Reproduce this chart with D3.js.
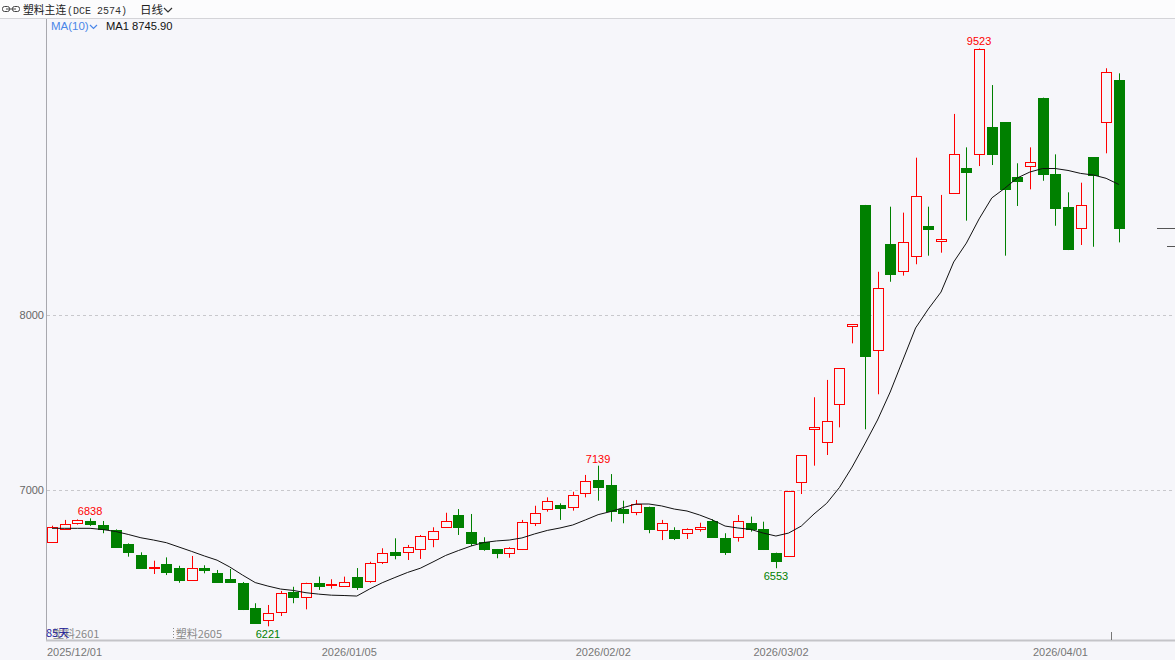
<!DOCTYPE html>
<html><head><meta charset="utf-8">
<script src="https://cdn.jsdelivr.net/npm/d3@7"></script>
<style>
html,body{margin:0;padding:0;background:#f6f6fa;}
svg{display:block;}
</style></head>
<body>
<svg id="c" width="1175" height="660"></svg>
<script>
// ---- data ----
const opens  = [6705,6777,6810,6825,6802,6771,6691,6629,6553,6577,6553,6486,6556,6527,6490,6470,6326,6257,6305,6419,
                6387,6467,6455,6453,6501,6482,6590,6646,6644,6661,6722,6790,6857,6758,6705,6663,6642,6665,6810,6890,
                6914,6901,6981,7057,7029,6891,6873,6901,6771,6771,6754,6775,6823,6727,6729,6813,6777,6642,6625,7044,
                7347,7276,7493,7935,8629,7800,8404,8253,8339,8509,8425,8699,8842,8920,9073,9101,8790,8851,9242,8806,
                8615,8495,8901,9101,9343];
const highs  = [6796,6829,6832,6838,6823,6775,6695,6644,6596,6615,6567,6623,6570,6543,6549,6474,6353,6343,6423,6447,
                6470,6505,6490,6505,6554,6590,6667,6724,6686,6743,6787,6870,6891,6863,6730,6663,6673,6829,6910,6958,
                6924,6990,7086,7139,7091,6939,6943,6905,6829,6787,6781,6813,6833,6753,6857,6848,6819,6642,6995,7200,
                7530,7629,7695,7947,8629,8247,8619,8585,8899,8619,8686,9149,8958,9523,9314,9101,8867,8958,9242,8918,
                8701,8756,8901,9410,9381];
const lows   = [6699,6777,6802,6795,6753,6670,6619,6549,6520,6514,6470,6482,6524,6470,6470,6314,6238,6221,6280,6353,
                6318,6429,6436,6447,6429,6470,6577,6604,6600,6606,6673,6787,6743,6680,6653,6610,6613,6657,6794,6876,
                6829,6882,6958,6939,6819,6810,6856,6753,6714,6714,6720,6762,6727,6629,6705,6762,6657,6553,6625,6977,
                7139,7200,7358,7838,7347,7547,8190,8225,8290,8339,8356,8699,8539,8851,8857,8339,8623,8718,8767,8510,
                8371,8400,8390,8924,8415];
const closes = [6790,6804,6830,6807,6775,6676,6646,6553,6558,6533,6486,6556,6541,6476,6476,6320,6242,6295,6410,6390,
                6467,6453,6463,6473,6447,6581,6642,6627,6676,6739,6766,6821,6787,6695,6665,6638,6669,6817,6867,6935,
                6899,6971,7050,7015,6880,6867,6918,6777,6810,6724,6777,6787,6733,6644,6823,6777,6663,6596,6994,7200,
                7360,7396,7695,7947,7766,8152,8234,8419,8680,8493,8433,8918,8819,9520,8920,8718,8767,8872,8806,8613,
                8377,8627,8800,9390,8499];
const ma10   = [6781,6781,6781,6781,6774,6763,6746,6727,6714,6699,6674,6649,6623,6599,6560,6514,6471,6451,6434,6426,
                6413,6405,6399,6397,6394,6434,6470,6500,6529,6553,6589,6626,6654,6680,6700,6709,6714,6726,6749,6769,
                6783,6800,6829,6859,6877,6900,6920,6920,6909,6891,6880,6857,6829,6794,6783,6775,6754,6737,6754,6794,
                6863,6924,7014,7131,7263,7400,7560,7743,7926,8034,8131,8303,8411,8549,8669,8723,8783,8817,8837,8837,
                8826,8809,8800,8781,8745.9];
const yTicks = [7000, 8000];
const dateLabels = ["2025/12/01","2026/01/05","2026/02/02","2026/03/02","2026/04/01"];
const dateIndex  = [-2, 21, 41, 55, 77];
const extremes = [ {i:73, v:9523, kind:"high"}, {i:43, v:7139, kind:"high"}, {i:3, v:6838, kind:"high"},
                   {i:17, v:6221, kind:"low"}, {i:57, v:6553, kind:"low"} ];
const refLines = [8499, 8396];
const titleText = "塑料主连";
const codeText = "(DCE 2574)";
const periodText = "日线";
const maName = "MA(10)";
const maValue = "MA1 8745.90";
const dayCount = "85天";
const contracts = [{i:-0.5, name:"塑料2601"}, {i:9.5, name:"塑料2605"}];

// ---- drawing ----
const W = 1175, H = 660;
const plotL = 46, plotB = 640, plotT = 19;
const svg = d3.select("#c");
const RED = "#ff0000", GREEN = "#008000";

const x = d3.scaleLinear().domain([0, 84]).range([52, 52 + 84 * 12.7]);
const y = d3.scaleLinear().domain([7000, 8000]).range([490, 315]);
const bw = 10;

// header
svg.append("rect").attr("x",0).attr("y",0).attr("width",W).attr("height",plotT).attr("fill","#fcfcfd");
svg.append("line").attr("x1",0).attr("x2",W).attr("y1",plotT-0.5).attr("y2",plotT-0.5).attr("stroke","#d4d4d8");
svg.append("rect").attr("x",2.5).attr("y",6.5).attr("width",7).attr("height",5).attr("rx",2).attr("fill","none").attr("stroke","#444");
svg.append("rect").attr("x",12.5).attr("y",6.5).attr("width",7).attr("height",5).attr("rx",2).attr("fill","none").attr("stroke","#444");
svg.append("line").attr("x1",6).attr("x2",16).attr("y1",9).attr("y2",9).attr("stroke","#444");
svg.append("text").attr("x",23).attr("y",14).attr("font-family","'Noto Sans CJK SC'").attr("font-size",10.8).attr("fill","#222").text(titleText);
svg.append("text").attr("x",67).attr("y",14).attr("font-family","'Liberation Mono'").attr("font-size",10).attr("fill","#333").text(codeText);
svg.append("text").attr("x",140).attr("y",14).attr("font-family","'Noto Sans CJK SC'").attr("font-size",11.5).attr("fill","#222").text(periodText);
svg.append("path").attr("d","M164,8 L168,12 L172,8").attr("fill","none").attr("stroke","#333").attr("stroke-width",1.2);

// frame
svg.append("line").attr("x1",plotL+0.5).attr("x2",plotL+0.5).attr("y1",plotT).attr("y2",plotB).attr("stroke","#a8a8ae");
svg.append("line").attr("x1",plotL).attr("x2",W).attr("y1",plotB+0.5).attr("y2",plotB+0.5).attr("stroke","#c4c4c8").attr("stroke-width",2);

// y axis + grid
const ya = svg.append("g").attr("transform",`translate(${plotL+1},0)`)
  .call(d3.axisLeft(y).tickValues(yTicks).tickSize(0).tickFormat(d3.format("d")));
ya.select(".domain").remove();
ya.selectAll("text").attr("font-family","'Liberation Sans'").attr("font-size",11).attr("fill","#666");
svg.append("g").selectAll("line").data(yTicks).join("line")
  .attr("x1",plotL+1).attr("x2",W).attr("y1",d=>Math.round(y(d))+0.5).attr("y2",d=>Math.round(y(d))+0.5)
  .attr("stroke","#c8c8cc").attr("stroke-dasharray","3,3");

// x axis labels
const xa = svg.append("g").attr("transform",`translate(0,${plotB})`)
  .call(d3.axisBottom(x).tickValues(dateIndex).tickSize(0).tickFormat((d,k)=>dateLabels[k]));
xa.select(".domain").remove();
xa.selectAll(".tick").attr("transform", d => `translate(${Math.max(47, x(d)+3)},0)`);
xa.selectAll("text").attr("text-anchor","start").attr("font-family","'Liberation Sans'")
  .attr("font-size",11).attr("fill","#777").attr("y",8).attr("dy","0.71em");

// candles
const idx = d3.range(opens.length);
const g = svg.append("g");
idx.forEach(i => {
  const cx = Math.round(x(i)) + 0.5;
  const up = closes[i] >= opens[i];
  const col = up ? RED : GREEN;
  const yo = y(opens[i]), yc = y(closes[i]), yh = y(highs[i]), yl = y(lows[i]);
  const bt = Math.round(Math.min(yo, yc)), bb = Math.max(bt + 1, Math.round(Math.max(yo, yc)));
  const bx = Math.round(x(i)) - bw/2 + 0.5;
  if (up) {
    g.append("line").attr("x1",cx).attr("x2",cx).attr("y1",yh).attr("y2",bt).attr("stroke",col);
    g.append("line").attr("x1",cx).attr("x2",cx).attr("y1",bb).attr("y2",yl).attr("stroke",col);
    g.append("rect").attr("x",bx).attr("y",bt+0.5).attr("width",bw).attr("height",Math.max(1,bb-bt))
      .attr("fill","#f6f6fa").attr("stroke",col);
  } else {
    g.append("line").attr("x1",cx).attr("x2",cx).attr("y1",yh).attr("y2",yl).attr("stroke",col);
    g.append("rect").attr("x",bx).attr("y",bt+0.5).attr("width",bw).attr("height",Math.max(1,bb-bt))
      .attr("fill",col).attr("stroke",col);
  }
});

// MA line
svg.append("path").datum(ma10)
  .attr("d", d3.line().x((d,i)=>x(i)).y(d=>y(d)))
  .attr("fill","none").attr("stroke","#111").attr("stroke-width",1);

// extreme labels
svg.append("g").selectAll("text").data(extremes).join("text")
  .attr("x", d => x(d.i)).attr("y", d => d.kind === "high" ? y(d.v) - 3 : y(d.v) + 12)
  .attr("text-anchor","middle").attr("font-family","'Liberation Sans'").attr("font-size",11)
  .attr("fill", d => d.kind === "high" ? RED : GREEN).text(d => d.v);

// right side reference ticks
svg.append("g").selectAll("line").data(refLines).join("line")
  .attr("x1",(d,k)=> k===0 ? 1157 : 1167).attr("x2",W)
  .attr("y1",d=>Math.round(y(d))+0.5).attr("y2",d=>Math.round(y(d))+0.5).attr("stroke","#555");

// MA legend
svg.append("text").attr("x",51).attr("y",30).attr("font-family","'Liberation Sans'").attr("font-size",11.5).attr("fill","#4a86e8").text(maName);
svg.append("path").attr("d","M90,25 L93.5,28.5 L97,25").attr("fill","none").attr("stroke","#4a86e8").attr("stroke-width",1.2);
svg.append("text").attr("x",106).attr("y",30).attr("font-family","'Liberation Sans'").attr("font-size",11.2).attr("fill","#111").text(maValue);

// bottom-left markers (contract switch points)
svg.append("g").selectAll("text").data(contracts).join("text")
  .attr("x", d => Math.max(53, x(d.i) + 3)).attr("y", 638)
  .attr("font-family","'Noto Sans CJK SC'").attr("font-size",11).attr("fill","#888").text(d => d.name);
svg.append("g").selectAll("line").data(contracts.filter(d => x(d.i) > plotL + 2)).join("line")
  .attr("x1", d => Math.round(x(d.i)) + 0.5).attr("x2", d => Math.round(x(d.i)) + 0.5).attr("y1",628).attr("y2",640)
  .attr("stroke","#888").attr("stroke-dasharray","1,2");
svg.append("text").attr("x",46).attr("y",637).attr("font-family","'Noto Sans CJK SC'").attr("font-size",11).attr("fill","#22229a").text(dayCount);
svg.append("line").attr("x1",1111.5).attr("x2",1111.5).attr("y1",632).attr("y2",640).attr("stroke","#777");
</script>
</body></html>
